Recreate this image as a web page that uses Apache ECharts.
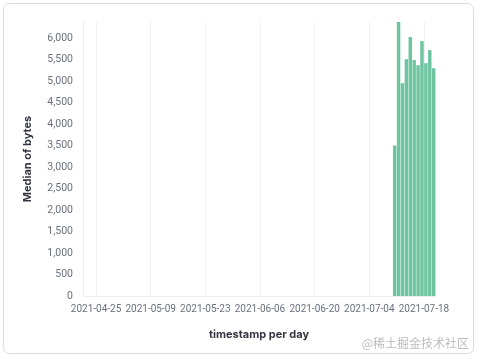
<!DOCTYPE html>
<html>
<head>
<meta charset="utf-8">
<script src="https://cdn.jsdelivr.net/npm/echarts@6/dist/echarts.min.js"></script>
<style>
html,body{margin:0;padding:0;background:#fff;}
#c{width:480px;height:359px;}
</style>
</head>
<body>
<div id="c"></div>
<script>
// ---- data ----
const dates = ['2021-07-10','2021-07-11','2021-07-12','2021-07-13','2021-07-14','2021-07-15','2021-07-16','2021-07-17','2021-07-18','2021-07-19','2021-07-20'];
const medianBytes = [3500, 6374, 4950, 5510, 6023, 5490, 5370, 5930, 5415, 5720, 5300];
const xTickDates = ['2021-04-25','2021-05-09','2021-05-23','2021-06-06','2021-06-20','2021-07-04','2021-07-18'];
const domainStart = '2021-04-21T16:00:00Z';
const domainEnd = '2021-07-20T20:00:00Z';
const yTicks = [0,500,1000,1500,2000,2500,3000,3500,4000,4500,5000,5500,6000];

const DAY = 86400000;
const ts = s => Date.parse(s.length === 10 ? s + 'T00:00:00Z' : s);
const fmtDate = v => {
  const d = new Date(v);
  const p = n => String(n).padStart(2, '0');
  return d.getUTCFullYear() + '-' + p(d.getUTCMonth() + 1) + '-' + p(d.getUTCDate());
};
const barData = dates.map((d, i) => [ts(d) + DAY / 2, medianBytes[i]]);
const tickVals = xTickDates.map(ts);

const chart = echarts.init(document.getElementById('c'), null, {renderer: 'canvas'});
const labelColor = '#6a717d';
const font = 'Inter, "Noto Sans", sans-serif';
const labelFont = 'Roboto, "Liberation Sans", sans-serif';
chart.setOption({
  animation: false,
  backgroundColor: '#ffffff',
  graphic: [
    {type: 'rect', z: -10, shape: {x: 3.5, y: 3.5, width: 470, height: 350, r: 6},
     style: {fill: '#ffffff', stroke: '#d9dde3', lineWidth: 1}},
    {type: 'text', right: 11, top: 337,
     style: {text: '@稀土掘金技术社区', fill: '#b9bcc0', font: '12px "Noto Sans CJK SC", sans-serif'}}
  ],
  grid: {left: 83, right: 45, top: 22, bottom: 63, containLabel: false},
  xAxis: {
    type: 'value',
    min: ts(domainStart),
    max: ts(domainEnd),
    name: 'timestamp per day',
    nameLocation: 'middle',
    nameGap: 33,
    nameTextStyle: {color: '#343741', fontWeight: 'bold', fontSize: 11, fontFamily: font},
    axisLine: {show: true, lineStyle: {color: '#eceef1', width: 1}},
    axisTick: {show: false, customValues: tickVals},
    axisLabel: {customValues: tickVals, formatter: v => fmtDate(v), color: labelColor, fontSize: 10, fontFamily: labelFont,
      margin: 8, showMinLabel: true, showMaxLabel: true, hideOverlap: false},
    splitLine: {show: true, lineStyle: {color: '#eef0f3', width: 1}}
  },
  yAxis: {
    type: 'value',
    min: 0,
    max: 'dataMax',
    interval: 500,
    name: 'Median of bytes',
    nameLocation: 'middle',
    nameGap: 50,
    nameRotate: 90,
    nameTextStyle: {color: '#343741', fontWeight: 'bold', fontSize: 11, fontFamily: font},
    axisLine: {show: true, lineStyle: {color: '#eceef1', width: 1}},
    axisTick: {show: false},
    axisLabel: {color: labelColor, fontSize: 10.5, fontFamily: labelFont, margin: 10, showMaxLabel: false,
      formatter: v => (yTicks.indexOf(v) >= 0 ? v.toLocaleString('en-US') : '')},
    splitLine: {show: false}
  },
  series: [{
    type: 'bar',
    data: barData,
    barWidth: '88%',
    clip: true,
    itemStyle: {color: '#6cc4a0'}
  }]
});
</script>
</body>
</html>
